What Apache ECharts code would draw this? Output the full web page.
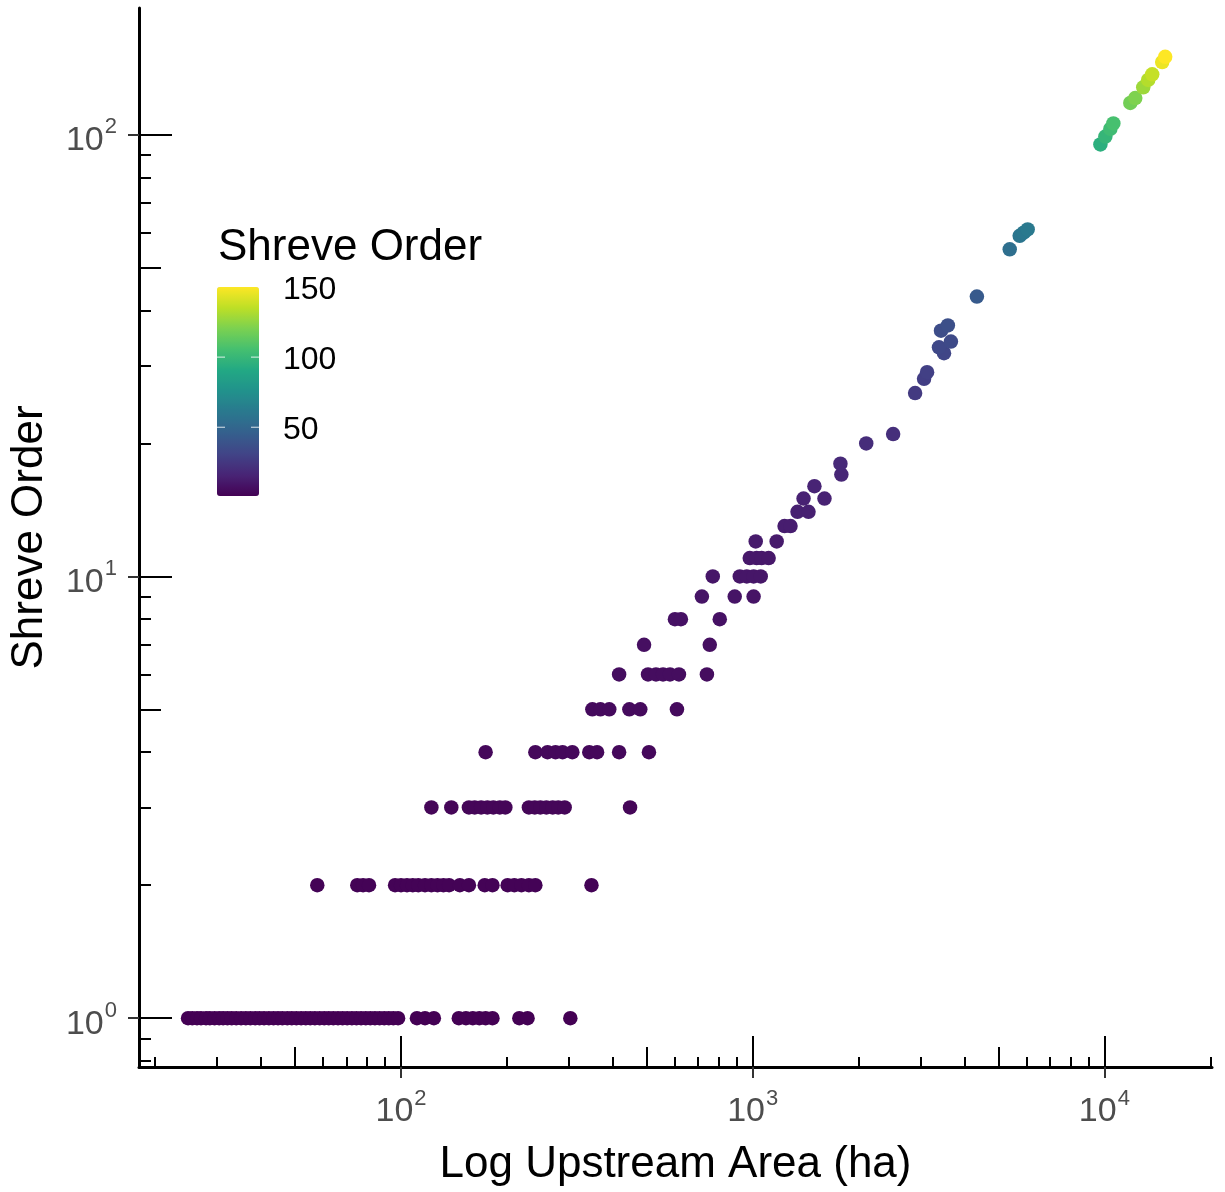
<!DOCTYPE html>
<html>
<head>
<meta charset="utf-8">
<script src="https://cdn.jsdelivr.net/npm/echarts@6/dist/echarts.min.js"></script>
<style>html,body{margin:0;padding:0;background:#fff}#c{width:1225px;height:1192px}</style>
</head>
<body>
<div id="c"></div>
<script>
// ---------- data (upstream area in ha, Shreve order) ----------
const areaOrder1 = [24.8, 25.5, 26.3, 27.0, 27.9, 28.6, 29.5, 30.4, 31.2, 32.1, 33.0, 34.0, 35.1, 36.2, 37.3,
  38.5, 39.6, 40.8, 42.1, 43.4, 44.7, 46.0, 47.5, 48.9, 50.4, 52.0, 53.6, 55.2, 56.9, 58.7, 60.5, 62.3,
  64.2, 66.2, 68.2, 70.3, 72.5, 74.7, 77.0, 79.4, 81.8, 84.3, 86.9, 89.6, 92.3, 95.1, 98.1,
  111, 117, 124, 146, 153, 160, 167, 174, 182, 217, 229, 303];
const areaOrder2 = [57.8, 75.1, 78.0, 81.1, 96.2, 100, 104, 108, 112, 117, 122, 127, 132, 137, 147, 156,
  173, 182, 201, 210, 220, 231, 241, 348];
const areaOrder3 = [122, 139, 156, 162, 169, 176, 183, 191, 198, 231, 240, 249, 259, 270, 280, 292, 448];
const areaOrder4 = [174, 241, 261, 275, 288, 307, 343, 361, 417, 507];
const areaOrder5 = [350, 369, 391, 446, 479, 609];
const areaOrder6 = [417, 504, 531, 556, 582, 617, 741];
const upperArea  = [491, 755, 601, 625, 806, 717, 889, 1006, 770, 919, 962, 1006, 1054, 981, 1026, 1060, 1110,
  1020, 1170, 1232, 1281, 1341, 1441, 1395, 1600, 1498, 1787, 1776, 2103, 2508, 2896, 3071, 3132,
  3499, 3386, 3661, 3431, 3589, 4340, 5381, 5743, 5895, 6052, 9743, 10064, 10398, 10605, 11850,
  12240, 12897, 13320, 13677, 14600, 14890];
const upperOrder = [7, 7, 8, 8, 8, 9, 9, 9, 10, 10, 10, 10, 10, 11, 11, 11, 11,
  12, 12, 13, 13, 14, 14, 15, 15, 16, 17, 18, 20, 21, 26, 28, 29,
  32, 33, 34, 36, 37, 43, 55, 59, 60, 61, 95, 99, 103, 106, 118,
  121, 128, 133, 137, 146, 150];

// ---------- ticks ----------
const xMajorTicks = [100, 1000, 10000];
const xMidTicks = [50, 500, 5000];
const xMinorTicks = [20, 30, 40, 60, 70, 80, 90, 200, 300, 400, 600, 700, 800, 900,
  2000, 3000, 4000, 6000, 7000, 8000, 9000, 20000];
const yMajorTicks = [1, 10, 100];
const yMidTicks = [5, 50];
const yMinorTicks = [0.8, 0.9, 2, 3, 4, 6, 7, 8, 9, 20, 30, 40, 60, 70, 80, 90];
const colorbarTicks = [50, 100, 150];
const colorRange = [1, 150];
const viridis = ['#440154', '#482475', '#414487', '#355f8d', '#2a788e', '#21918c',
  '#22a884', '#44bf70', '#7ad151', '#bddf26', '#fde725'];

// axis extents (log10 units)
const X_LOG_MIN = 1.255, X_LOG_MAX = 4.306;
const Y_LOG_MIN = -0.1106, Y_LOG_MAX = 2.2867;

const FONT = '"Liberation Sans", Arial, Helvetica, sans-serif';
const lg = v => Math.log10(v);

const points = [];
[[1, areaOrder1], [2, areaOrder2], [3, areaOrder3], [4, areaOrder4], [5, areaOrder5], [6, areaOrder6]]
  .forEach(([o, arr]) => arr.forEach(a => points.push([lg(a), lg(o), o])));
upperArea.forEach((a, i) => points.push([lg(a), lg(upperOrder[i]), upperOrder[i]]));

const rich = {
  b: {fontSize: 34, lineHeight: 34, color: '#4D4D4D', fontFamily: FONT, padding: [12, 0, 0, 0]},
  s: {fontSize: 22, lineHeight: 22, color: '#4D4D4D', fontFamily: FONT, padding: [0, 0, 15, 1]}
};
const powFmt = v => '{b|10}{s|' + Math.round(v) + '}';

function tickAxis(kind, ticks, len) {
  return {
    type: 'value',
    min: kind === 'x' ? X_LOG_MIN : Y_LOG_MIN,
    max: kind === 'x' ? X_LOG_MAX : Y_LOG_MAX,
    position: kind === 'x' ? 'bottom' : 'left',
    gridIndex: 0,
    splitLine: {show: false},
    axisLine: {show: false, onZero: false},
    axisTick: {show: true, inside: true, length: len, customValues: ticks.map(lg),
      lineStyle: {color: '#000', width: 2}},
    axisLabel: {show: false}
  };
}
function mainAxis(kind) {
  const ax = tickAxis(kind, kind === 'x' ? xMajorTicks : yMajorTicks, 11);
  ax.axisLine = {show: true, onZero: false, lineStyle: {color: '#000', width: 3}};
  ax.axisTick.inside = false;
  ax.axisTick.lineStyle = {color: '#333333', width: 2};
  ax.axisLabel = {show: true, customValues: (kind === 'x' ? xMajorTicks : yMajorTicks).map(lg),
    formatter: powFmt, rich: rich, margin: kind === 'x' ? 22 : 22};
  ax.name = kind === 'x' ? 'Log Upstream Area (ha)' : 'Shreve Order';
  ax.nameLocation = 'middle';
  ax.nameTextStyle = {fontSize: 44, color: '#000', fontFamily: FONT};
  if (kind === 'x') { ax.nameGap = 76; } else { ax.nameGap = 87; ax.nameRotate = 90; }
  return ax;
}

const cb = {left: 217, top: 287, w: 42, h: 209};
const cbY = v => cb.top + (colorRange[1] - v) / (colorRange[1] - colorRange[0]) * cb.h;

const graphics = [{
  type: 'text', left: 218, top: 226,
  style: {text: 'Shreve Order', fontSize: 44, fontFamily: FONT, fill: '#000'}
}];
colorbarTicks.forEach(v => {
  const y = cbY(v);
  graphics.push({type: 'text', x: 283, y: y + 3,
    style: {text: String(v), fontSize: 32, fontFamily: FONT, fill: '#000', verticalAlign: 'middle', align: 'left'}});
  if (v < colorRange[1]) {
    graphics.push({type: 'line', shape: {x1: cb.left, y1: y, x2: cb.left + 8, y2: y},
      style: {stroke: 'rgba(255,255,255,0.7)', lineWidth: 1.2}, z: 100});
    graphics.push({type: 'line', shape: {x1: cb.left + cb.w - 8, y1: y, x2: cb.left + cb.w, y2: y},
      style: {stroke: 'rgba(255,255,255,0.7)', lineWidth: 1.2}, z: 100});
  }
});

const chart = echarts.init(document.getElementById('c'), null, {renderer: 'canvas'});
chart.setOption({
  animation: false,
  backgroundColor: '#fff',
  grid: {left: 135, top: 8, width: 1077, height: 1062, containLabel: false},
  xAxis: [mainAxis('x'), tickAxis('x', xMajorTicks, 31), tickAxis('x', xMidTicks, 20), tickAxis('x', xMinorTicks, 10)],
  yAxis: [mainAxis('y'), tickAxis('y', yMajorTicks, 33), tickAxis('y', yMidTicks, 22), tickAxis('y', yMinorTicks, 12)],
  visualMap: {
    type: 'continuous', dimension: 2, seriesIndex: 0, min: colorRange[0], max: colorRange[1],
    inRange: {color: viridis}, left: cb.left, top: cb.top, itemWidth: cb.w, itemHeight: cb.h,
    calculable: false, padding: 0, orient: 'vertical', hoverLink: false, text: null, showLabel: false
  },
  series: [{
    type: 'scatter', xAxisIndex: 0, yAxisIndex: 0, symbolSize: 14.5,
    itemStyle: {opacity: 1}, data: points, z: 5
  }],
  graphic: graphics
});
</script>
</body>
</html>
